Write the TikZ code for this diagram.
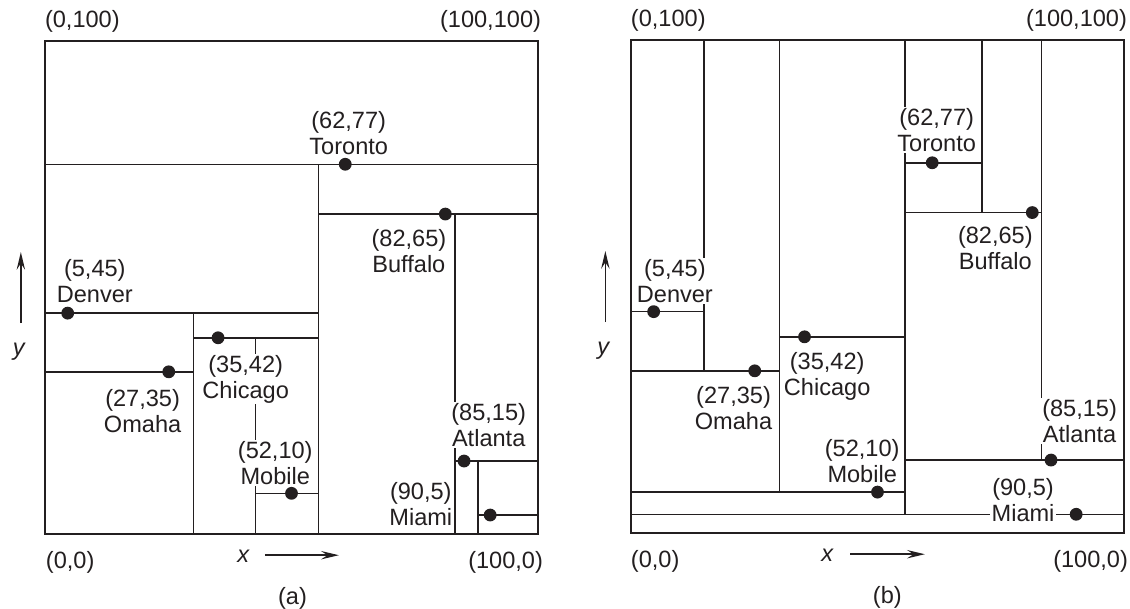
\documentclass[tikz,border=0pt]{standalone}
\usepackage{fontspec}
\setmainfont{Liberation Sans}
\usepackage{tikz}
\usetikzlibrary{arrows.meta,positioning}
\definecolor{ink}{HTML}{231F20}

\begin{document}
\begin{tikzpicture}[
  x=1mm, y=1mm,
  font=\fontsize{13.6}{15}\selectfont,
  color=ink, line width=0.85pt,
  city/.style={circle, fill=ink, minimum size=2.6mm, inner sep=0pt, outer sep=0pt},
  lbl/.style={align=center, fill=white, inner sep=0.3mm, outer sep=0pt},
  corner/.style={inner sep=0pt, outer sep=0pt},
  axis/.style={-{Stealth[length=3.6mm, width=1.7mm, inset=1.3mm]}},
]
\useasboundingbox (-9.13,-15.21) rectangle (220.08,108.32);

% (a)
\draw (0,0) rectangle (100,100);
\draw (0,75) -- (100,75);
\draw (55.5,75) -- (55.5,0);
\draw (55.5,64.9) -- (100,64.9);
\draw (83.2,64.9) -- (83.2,0);
\draw (83.2,14.8) -- (100,14.8);
\draw (87.8,14.8) -- (87.8,0);
\draw (87.8,3.85) -- (100,3.85);
\draw (0,44.8) -- (55.5,44.8);
\draw (30.1,44.8) -- (30.1,0);
\draw (0,32.9) -- (30.1,32.9);
\draw (30.1,39.8) -- (55.5,39.8);
\draw (42.7,39.8) -- (42.7,0);
\draw (42.7,8.25) -- (55.5,8.25);

\node[city] (tor-a) at (60.9,75) {};
\node[city] (buf-a) at (81.2,64.9) {};
\node[city] (den-a) at (4.6,44.8) {};
\node[city] (oma-a) at (25.1,32.9) {};
\node[city] (chi-a) at (35.1,39.8) {};
\node[city] (mob-a) at (50,8.25) {};
\node[city] (atl-a) at (85,14.8) {};
\node[city] (mia-a) at (90.3,3.85) {};

\node[lbl, above=0.4mm of tor-a, xshift=0.7mm] (tor-a-l) {(62,77)\\Toronto};
\node[lbl, below left=1.85mm and -1.4mm of buf-a] (buf-a-l) {(82,65)\\Buffalo};
\node[lbl, above=0.47mm of den-a, xshift=5.5mm] (den-a-l) {(5,45)\\Denver};
\node[lbl, below=1.9mm of oma-a, xshift=-5.3mm] (oma-a-l) {(27,35)\\Omaha};
\node[lbl, below=1.9mm of chi-a, xshift=5.6mm] (chi-a-l) {(35,42)\\Chicago};
\node[lbl, above=0.1mm of mob-a, xshift=-3.3mm] (mob-a-l) {(52,10)\\Mobile};
\node[lbl, above=1.3mm of atl-a, xshift=5mm] (atl-a-l) {(85,15)\\Atlanta};
\node[lbl, left=6.1mm of mia-a, yshift=2.2mm] (mia-a-l) {(90,5)\\Miami};

\coordinate (tl-a) at (0,100);
\coordinate (tr-a) at (100,100);
\coordinate (bl-a) at (0,0);
\coordinate (br-a) at (100,0);
\node[corner, above right=1.8mm and 0mm of tl-a] (tl-a-l) {(0,100)};
\node[corner, above left=1.8mm and -0.6mm of tr-a] (tr-a-l) {(100,100)};
\node[corner, below right=3.6mm and 0.2mm of bl-a] (bl-a-l) {(0,0)};
\node[corner, below left=3.6mm and -1mm of br-a] (br-a-l) {(100,0)};

\coordinate (ys-a) at (-4.9,42.8);
\coordinate (ye-a) at (-4.9,57.2);
\coordinate (xs-a) at (44.6,-4.3);
\coordinate (xe-a) at (59.6,-4.3);
\draw[axis] (ys-a) -- (ye-a);
\draw[axis] (xs-a) -- (xe-a);
\node (y-a) at (-5.3,37) {\itshape y};
\node (x-a) at (40.2,-4.56) {\itshape x};
\node (cap-a) at (50.2,-13.1) {(a)};

% (b)
\begin{scope}[xshift=118.86mm, yshift=0.2mm]
\draw (0,0) rectangle (100,100);
\draw (14.8,100) -- (14.8,32.9);
\draw (30.1,100) -- (30.1,8.3);
\draw (55.6,100) -- (55.6,3.8);
\draw (71.2,100) -- (71.2,65);
\draw (83.3,100) -- (83.3,14.8);
\draw (55.6,75.1) -- (71.2,75.1);
\draw (55.6,65) -- (83.3,65);
\draw (0,44.9) -- (14.8,44.9);
\draw (0,32.9) -- (30.1,32.9);
\draw (30.1,39.8) -- (55.6,39.8);
\draw (0,8.3) -- (55.6,8.3);
\draw (55.6,14.8) -- (100,14.8);
\draw (0,3.8) -- (100,3.8);

\node[city] (tor-b) at (61.1,75.1) {};
\node[city] (buf-b) at (81.4,65) {};
\node[city] (den-b) at (4.6,44.9) {};
\node[city] (oma-b) at (25.1,32.9) {};
\node[city] (chi-b) at (35.2,39.8) {};
\node[city] (mob-b) at (50,8.3) {};
\node[city] (atl-b) at (85.2,14.8) {};
\node[city] (mia-b) at (90.3,3.8) {};

\node[lbl, above=0.6mm of tor-b, xshift=0.9mm] (tor-b-l) {(62,77)\\Toronto};
\node[lbl, below left=1.6mm and -1.3mm of buf-b] (buf-b-l) {(82,65)\\Buffalo};
\node[lbl, above=0.3mm of den-b, xshift=4.3mm] (den-b-l) {(5,45)\\Denver};
\node[lbl, below=1.6mm of oma-b, xshift=-4.3mm] (oma-b-l) {(27,35)\\Omaha};
\node[lbl, below=1.6mm of chi-b, xshift=4.6mm] (chi-b-l) {(35,42)\\Chicago};
\node[lbl, above=0.3mm of mob-b, xshift=-3.1mm] (mob-b-l) {(52,10)\\Mobile};
\node[lbl, above=1.95mm of atl-b, xshift=5.8mm] (atl-b-l) {(85,15)\\Atlanta};
\node[lbl, left=2.8mm of mia-b, yshift=2.9mm] (mia-b-l) {(90,5)\\Miami};

\coordinate (tl-b) at (0,100);
\coordinate (tr-b) at (100,100);
\coordinate (bl-b) at (0,0);
\coordinate (br-b) at (100,0);
\node[corner, above right=1.8mm and 0mm of tl-b] (tl-b-l) {(0,100)};
\node[corner, above left=1.8mm and -0.6mm of tr-b] (tr-b-l) {(100,100)};
\node[corner, below right=3.6mm and 0mm of bl-b] (bl-b-l) {(0,0)};
\node[corner, below left=3.6mm and -0.8mm of br-b] (br-b-l) {(100,0)};

\coordinate (ys-b) at (-5.2,42.8);
\coordinate (ye-b) at (-5.2,57.2);
\coordinate (xs-b) at (44.5,-4.3);
\coordinate (xe-b) at (59.6,-4.3);
\draw[axis] (ys-b) -- (ye-b);
\draw[axis] (xs-b) -- (xe-b);
\node (y-b) at (-5.6,37) {\itshape y};
\node (x-b) at (39.8,-4.56) {\itshape x};
\node (cap-b) at (52,-13.1) {(b)};
\end{scope}
\end{tikzpicture}
\end{document}
